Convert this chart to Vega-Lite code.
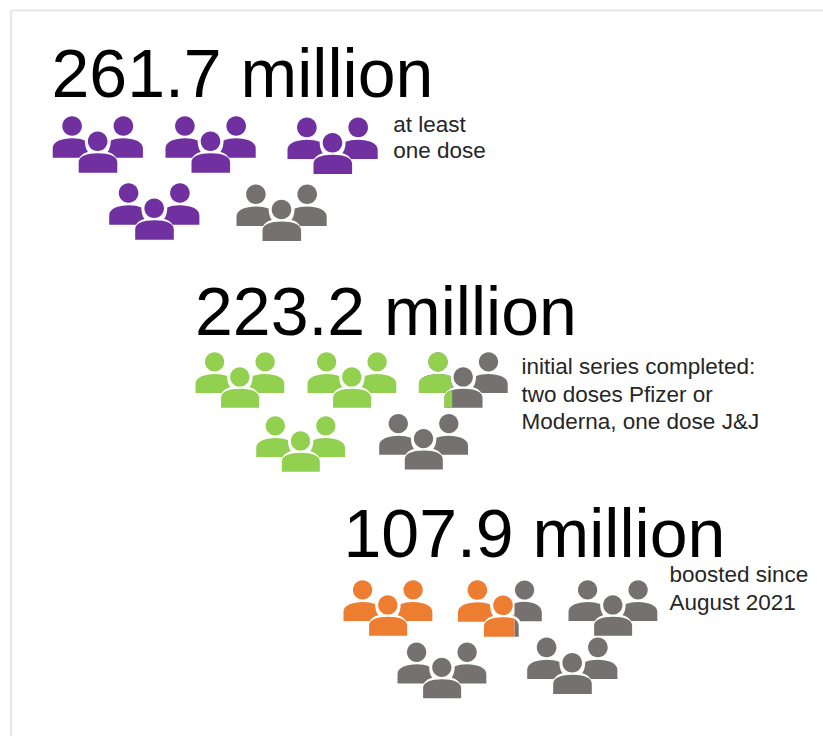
{
  "$schema": "https://vega.github.io/schema/vega-lite/v6.json",
  "width": 823,
  "height": 736,
  "padding": 0,
  "autosize": {"type": "none"},
  "background": "white",
  "view": {"stroke": null},
  "datasets": {
    "frame": [
      {"edge": "left", "slot": 26},
      {"edge": "left", "slot": 27},
      {"edge": "top", "slot": 26},
      {"edge": "top", "slot": 28}
    ],
    "icons": [
      {"slot": 1, "measure": "at least one dose", "glyph": "group"},
      {"slot": 2, "measure": "at least one dose", "glyph": "group"},
      {"slot": 3, "measure": "at least one dose", "glyph": "group"},
      {"slot": 4, "measure": "at least one dose", "glyph": "group"},
      {"slot": 5, "measure": "remaining", "glyph": "group"},
      {"slot": 6, "measure": "initial series completed", "glyph": "group"},
      {"slot": 7, "measure": "initial series completed", "glyph": "group"},
      {"slot": 8, "measure": "remaining", "glyph": "group"},
      {"slot": 8, "measure": "initial series completed", "glyph": "part of group, small"},
      {"slot": 9, "measure": "initial series completed", "glyph": "group"},
      {"slot": 10, "measure": "remaining", "glyph": "group"},
      {"slot": 11, "measure": "boosted", "glyph": "group"},
      {"slot": 12, "measure": "remaining", "glyph": "remainder of group"},
      {"slot": 12, "measure": "boosted", "glyph": "part of group, large"},
      {"slot": 13, "measure": "remaining", "glyph": "group"},
      {"slot": 14, "measure": "remaining", "glyph": "group"},
      {"slot": 15, "measure": "remaining", "glyph": "group"}
    ],
    "headlines": [
      {"slot": 16, "line": "261.7 million"},
      {"slot": 17, "line": "223.2 million"},
      {"slot": 18, "line": "107.9 million"}
    ],
    "captions": [
      {"slot": 19, "line": "at least"},
      {"slot": 20, "line": "one dose"},
      {"slot": 21, "line": "initial series completed:"},
      {"slot": 22, "line": "two doses Pfizer or"},
      {"slot": 23, "line": "Moderna, one dose J&J"},
      {"slot": 24, "line": "boosted since"},
      {"slot": 25, "line": "August 2021"}
    ]
  },
  "encoding": {
    "x": {
      "field": "slot",
      "type": "quantitative",
      "axis": null,
      "scale": {
        "nice": false,
        "zero": false,
        "domain": [1,2,3,4,5,6,7,8,9,10,11,12,13,14,15,16,17,18,19,20,21,22,23,24,25,26,27,28],
        "range": [52.5,165.3,287.3,109,236.3,195.3,307.3,418.7,256,379,343.3,457.8,568.3,397.3,527,51.5,195,343.5,393.3,393.3,521.5,521.5,521.5,669.5,669.5,11,11,823]
      }
    },
    "y": {
      "field": "slot",
      "type": "quantitative",
      "axis": null,
      "scale": {
        "nice": false,
        "zero": false,
        "domain": [1,2,3,4,5,6,7,8,9,10,11,12,13,14,15,16,17,18,19,20,21,22,23,24,25,26,27,28],
        "range": [116.3,116.3,117.7,183.3,184.5,352.3,352.3,352.3,416.3,414,580.3,580.3,580.3,642.7,637.7,97,335,556.7,131.7,158.3,374.3,401.7,429,582.3,610,10.5,736,10.5]
      }
    }
  },
  "layer": [
    {
      "data": {"name": "frame"},
      "mark": {"type": "line", "stroke": "#e8e8e8", "strokeWidth": 2.2},
      "encoding": {"detail": {"field": "edge", "type": "nominal"}}
    },
    {
      "data": {"name": "icons"},
      "mark": {"type": "point", "filled": true, "opacity": 1, "strokeWidth": 0},
      "encoding": {
        "size": {
          "condition": {"test": "datum.slot >= 6 && datum.slot <= 14 && datum.slot != 12", "value": 3.88},
          "value": 4
        },
        "color": {
          "field": "measure",
          "type": "nominal",
          "legend": null,
          "scale": {
            "domain": ["at least one dose", "initial series completed", "boosted", "remaining"],
            "range": ["#7030A0", "#92D050", "#ED7D31", "#767171"]
          }
        },
        "shape": {
          "field": "glyph",
          "type": "nominal",
          "legend": null,
          "scale": {
            "domain": ["group", "part of group, small", "part of group, large", "remainder of group"],
            "range": [
              "M9.8,9.7A9.8,9.8 0 1 1 29.4,9.7A9.8,9.8 0 1 1 9.8,9.7ZM61.1,9.7A9.8,9.8 0 1 1 80.7,9.7A9.8,9.8 0 1 1 61.1,9.7ZM35.4,25A9.8,9.8 0 1 1 55,25A9.8,9.8 0 1 1 35.4,25ZM26.2,56.4L26.2,46C26.2,40 34,37 45.5,37C57,37 64.8,40 64.8,46L64.8,56.4ZM0.2,41.4L0.2,32C0.2,25.5 9,22 20,22C24.5,22 29,22.8 32.3,24.1C32.4,28 33,32.5 35.5,35.6C32,36.4 28.8,38.4 26.8,41.4ZM90.4,41.4L90.4,32C90.4,25.5 81.6,22 70.6,22C66.1,22 61.6,22.8 58.3,24.1C58.2,28 57.6,32.5 55.1,35.6C58.6,36.4 61.8,38.4 63.8,41.4Z",
              "M9.8,9.7A9.8,9.8 0 1 1 29.4,9.7A9.8,9.8 0 1 1 9.8,9.7ZM0.2,41.4L0.2,32C0.2,25.5 9,22 20,22C24.5,22 29,22.8 32.3,24.1C32.4,28 32.7,31 34,33.8L34,36.1C31.5,37 28.8,38.4 26.8,41.4ZM26.2,56.4L26.2,46C26.2,42 29,39.3 34,38L34,56.4Z",
              "M9.8,9.7A9.8,9.8 0 1 1 29.4,9.7A9.8,9.8 0 1 1 9.8,9.7ZM35.4,25A9.8,9.8 0 1 1 55,25A9.8,9.8 0 1 1 35.4,25ZM26.2,56.4L26.2,46C26.2,40 34,37 45.5,37C49.5,37 53.5,37.4 56.7,38.3L56.7,56.4ZM0.2,41.4L0.2,32C0.2,25.5 9,22 20,22C24.5,22 29,22.8 32.3,24.1C32.4,28 33,32.5 35.5,35.6C32,36.4 28.8,38.4 26.8,41.4ZM56.7,32.6L55.1,35.6L56.7,36Z",
              "M57.2,9.7A9.6,9.6 0 1 1 76.4,9.7A9.6,9.6 0 1 1 57.2,9.7ZM84,41L84,32C84,25.5 76,21.5 66,21.5C62.5,21.5 59.3,22.2 56.7,23.3L56.7,36C59,36.6 61,38.3 62.6,41ZM56.7,38.8C59,39.8 60.9,42.5 60.9,46L60.9,56.4L56.7,56.4Z"
            ]
          }
        }
      }
    },
    {
      "data": {"name": "headlines"},
      "mark": {"type": "text", "align": "left", "baseline": "alphabetic", "font": "Liberation Sans", "fontSize": 68, "fill": "#000000"},
      "encoding": {"text": {"field": "line", "type": "nominal"}}
    },
    {
      "data": {"name": "captions"},
      "mark": {"type": "text", "align": "left", "baseline": "alphabetic", "font": "Liberation Sans", "fontSize": 22.5, "fill": "#262626"},
      "encoding": {"text": {"field": "line", "type": "nominal"}}
    }
  ]
}
